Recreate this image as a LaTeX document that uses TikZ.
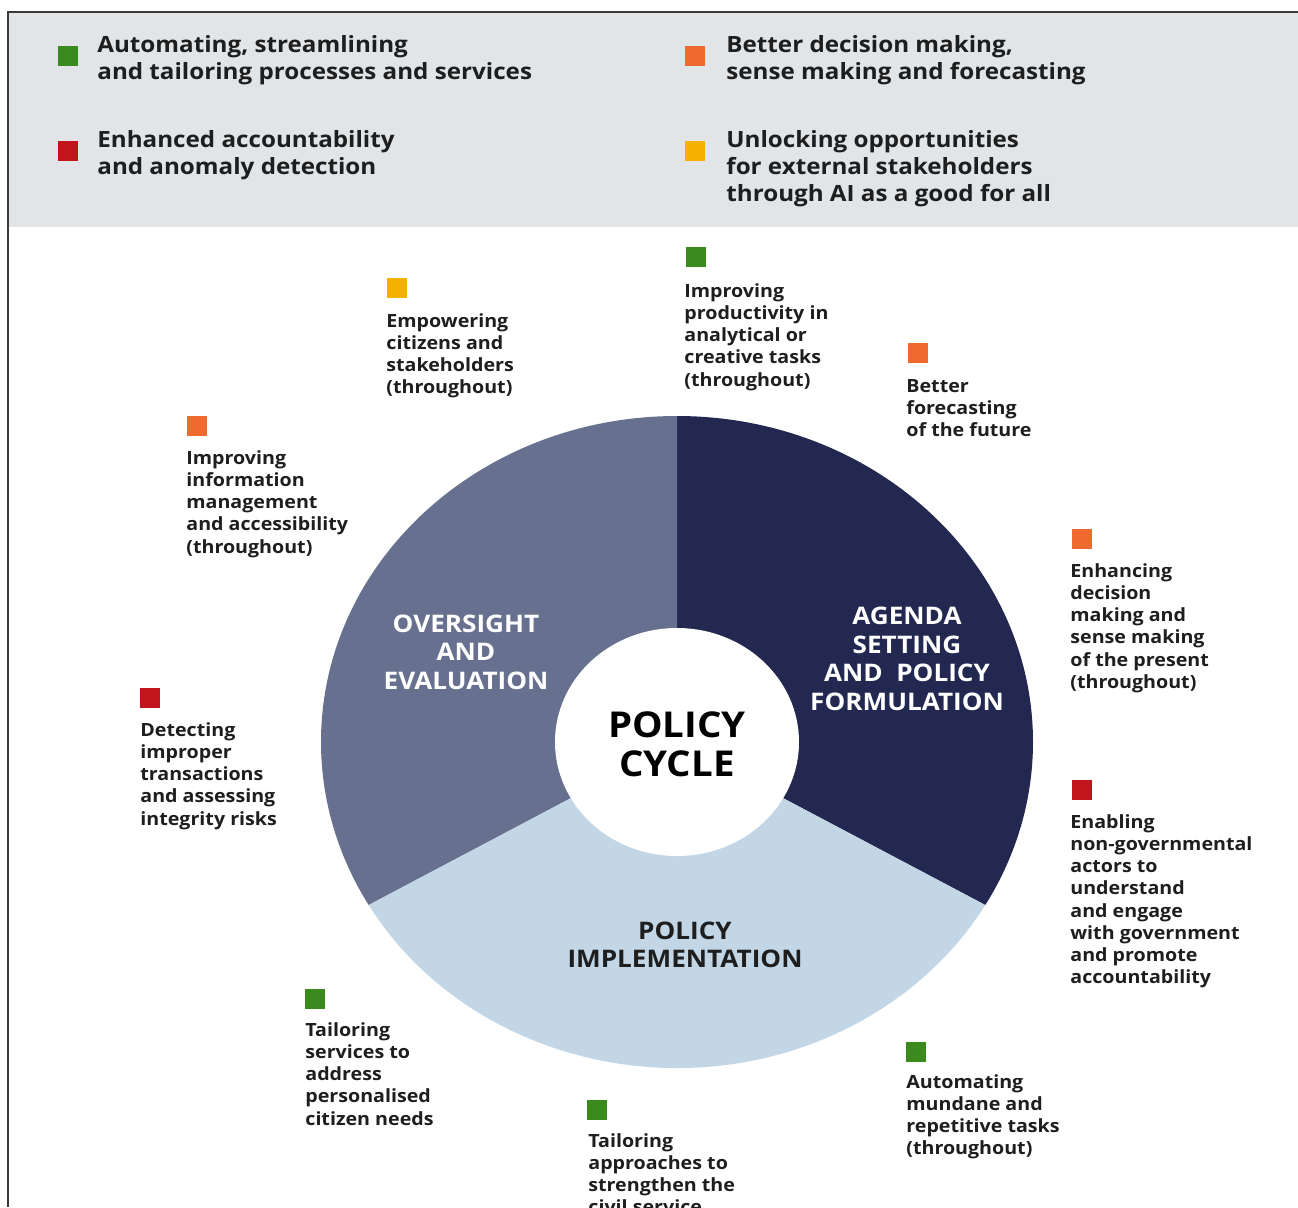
\documentclass[tikz,border=0pt]{standalone}
\usepackage{fontspec}
\setmainfont{Open Sans}[FakeStretch=1.08]
\definecolor{band}{HTML}{E1E5E8}
\definecolor{frame}{HTML}{3A3A3A}
\definecolor{txt}{HTML}{1E1E1E}
\definecolor{agenda}{HTML}{22284F}
\definecolor{oversight}{HTML}{67718F}
\definecolor{impl}{HTML}{C2D6E6}
\definecolor{sqgreen}{HTML}{3A8A1E}
\definecolor{sqorange}{HTML}{EE6A2E}
\definecolor{sqred}{HTML}{C0161C}
\definecolor{sqyellow}{HTML}{F5B000}
\tikzset{
  sq/.style={anchor=north west, inner sep=0pt, minimum size=9.8pt, fill=#1},
  legtext/.style={anchor=north west, inner sep=0pt, align=left, text=txt,
    font=\fontsize{11.2}{13.5}\selectfont\bfseries},
  ann/.style={anchor=north west, inner sep=0pt, align=left, text=txt,
    font=\fontsize{9.1}{11.1}\selectfont\bfseries},
  seglabel/.style={anchor=center, inner sep=0pt, align=center,
    font=\fontsize{12.1}{14.3}\selectfont\bfseries},
}
\begin{document}
\begin{tikzpicture}[x=0.5pt,y=-0.5pt]
\useasboundingbox (0,0) rectangle (1298,1207);
\begin{scope}
\clip (0,0) rectangle (1298,1207);
% top band and frame
\fill[band] (8,12) rectangle (1298,227);
\draw[frame, line width=0.8pt] (8,1207) -- (8,12) -- (1298,12);

% legend
\node[sq=sqgreen] (lg1) at (58,46) {};
\node[legtext] (lt1) at (97,35) {Automating, streamlining\\and tailoring processes and services};
\node[sq=sqred] (lg2) at (58,141) {};
\node[legtext] (lt2) at (97,130) {Enhanced accountability\\and anomaly detection};
\node[sq=sqorange] (lg3) at (685,46) {};
\node[legtext] (lt3) at (726,35) {Better decision making,\\sense making and forecasting};
\node[sq=sqyellow] (lg4) at (685,141) {};
\node[legtext] (lt4) at (726,130) {Unlocking opportunities\\for external stakeholders\\through AI as a good for all};

% policy cycle wheel
\coordinate (C) at (677,742);
\fill[agenda] (C) -- ++(0pt,163pt) arc[start angle=90, end angle=-30, x radius=178pt, y radius=163pt] -- cycle;
\fill[oversight] (C) -- ++(0pt,163pt) arc[start angle=90, end angle=210, x radius=178pt, y radius=163pt] -- cycle;
\fill[impl] (C) -- ++(-154.15pt,-81.5pt) arc[start angle=210, end angle=330, x radius=178pt, y radius=163pt] -- cycle;
\fill[white] (C) ellipse[x radius=61pt, y radius=57pt];

\node[seglabel, text=white] (ov) at (466,652) {OVERSIGHT\\AND\\EVALUATION};
\node[seglabel, text=white] (ag) at (907,659) {AGENDA\\SETTING\\AND~ POLICY\\FORMULATION};
\node[seglabel, text=txt] (im) at (685,945) {POLICY\\IMPLEMENTATION};
\node[anchor=center, inner sep=0pt, align=center, text=black,
  font=\fontsize{17.8}{19.3}\selectfont\bfseries] (pc) at (677,744) {POLICY\\CYCLE};

% annotations
\node[sq=sqyellow] (s1) at (387,278) {};
\node[ann] (a1) at (386,313) {Empowering\\citizens and\\stakeholders\\(throughout)};
\node[sq=sqgreen] (s2) at (686,247) {};
\node[ann] (a2) at (684,283) {Improving\\productivity in\\analytical or\\creative tasks\\(throughout)};
\node[sq=sqorange] (s3) at (908,343) {};
\node[ann] (a3) at (906,379) {Better\\forecasting\\of the future};
\node[sq=sqorange] (s4) at (187,416) {};
\node[ann] (a4) at (186,450) {Improving\\information\\management\\and accessibility\\(throughout)};
\node[sq=sqorange] (s5) at (1072,529) {};
\node[ann] (a5) at (1070,563) {Enhancing\\decision\\making and\\sense making\\of the present\\(throughout)};
\node[sq=sqred] (s6) at (140,688) {};
\node[ann] (a6) at (140,722) {Detecting\\improper\\transactions\\and assessing\\integrity risks};
\node[sq=sqred] (s7) at (1072,780) {};
\node[ann] (a7) at (1070,814) {Enabling\\non-governmental\\actors to\\understand\\and engage\\with government\\and promote\\accountability};
\node[sq=sqgreen] (s8) at (305,989) {};
\node[ann] (a8) at (305,1022) {Tailoring\\services to\\address\\personalised\\citizen needs};
\node[sq=sqgreen] (s9) at (587,1100) {};
\node[ann] (a9) at (588,1133) {Tailoring\\approaches to\\strengthen the\\civil service};
\node[sq=sqgreen] (s10) at (906,1042) {};
\node[ann] (a10) at (906,1074) {Automating\\mundane and\\repetitive tasks\\(throughout)};
\end{scope}
\end{tikzpicture}
\end{document}
